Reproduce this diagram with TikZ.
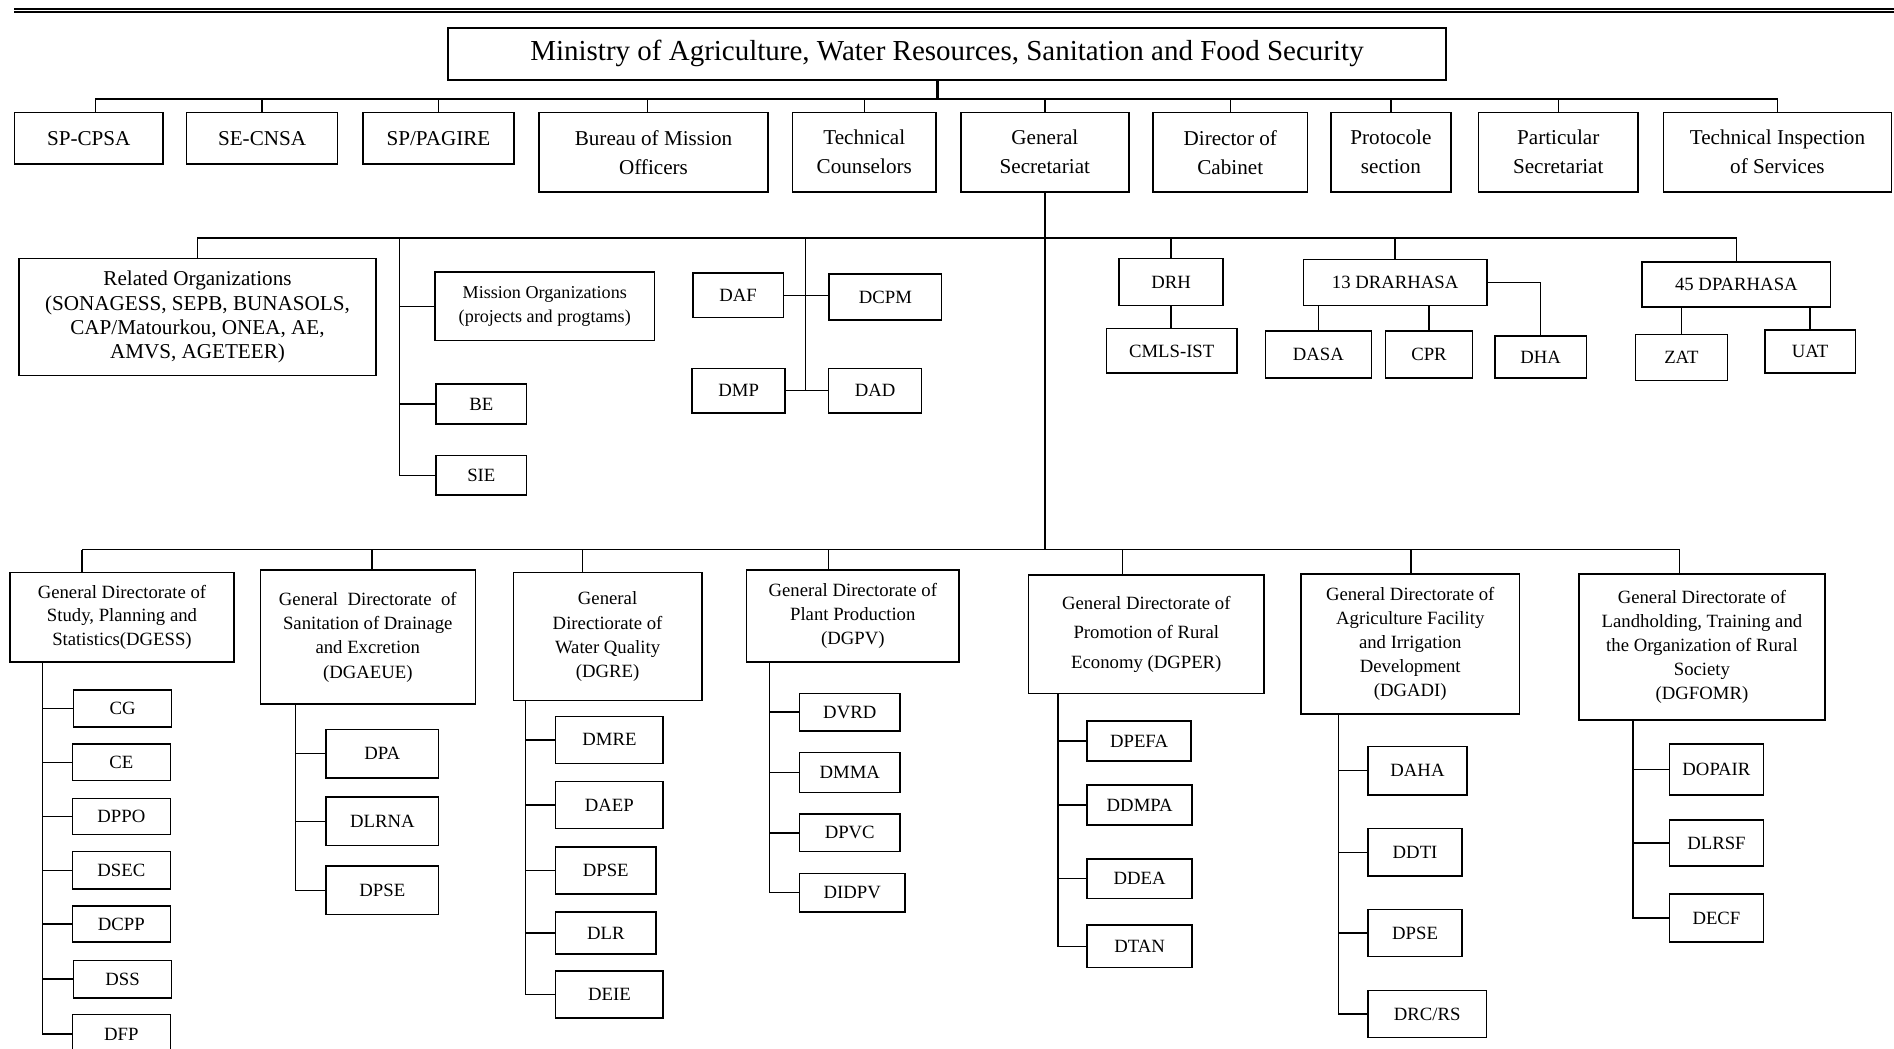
\documentclass[tikz,border=0pt]{standalone}
\usepackage{fontspec}
\setmainfont{Liberation Serif}
\begin{document}
\begin{tikzpicture}[x=1pt,y=-1pt,
  box/.style={draw, line width=1.3pt, inner sep=0pt, align=center},
  fA/.style={font=\fontsize{17.5}{24}\selectfont},
  fB/.style={font=\fontsize{15.5}{20}\selectfont},
  fC/.style={font=\fontsize{15.5}{19.5}\selectfont},
  conn/.style={line width=1.1pt},
  thickconn/.style={line width=2pt}]
\useasboundingbox (0,0) rectangle (1568,868);
% top rule
\draw[line width=2pt] (12,7.3) -- (1568,7.3);
\draw[line width=1.2pt] (12,10.1) -- (1568,10.1);

% level 0
\node[box, font=\fontsize{24}{28}\selectfont, minimum width=826pt, minimum height=43pt] (ministry) at (784,44.5) {Ministry of Agriculture, Water Resources, Sanitation and Food Security};

% level 1
\node[box,fA,minimum width=123pt,minimum height=43pt] (spcpsa) at (73.5,114.5) {SP-CPSA};
\node[box,fA,minimum width=125pt,minimum height=43pt] (secnsa) at (217,114.5) {SE-CNSA};
\node[box,fA,minimum width=125pt,minimum height=43pt] (sppagire) at (363,114.5) {SP/PAGIRE};
\node[box,fA,minimum width=190pt,minimum height=66pt] (bureau) at (541,126) {Bureau of Mission\\Officers};
\node[box,fA,minimum width=119pt,minimum height=66pt] (techc) at (715.5,126) {Technical\\Counselors};
\node[box,fA,minimum width=139pt,minimum height=66pt] (gs) at (865,126) {General\\Secretariat};
\node[box,fA,minimum width=128pt,minimum height=66pt] (dircab) at (1018.5,126) {Director of\\Cabinet};
\node[box,fA,minimum width=99pt,minimum height=66pt] (proto) at (1151.5,126) {Protocole\\section};
\node[box,fA,minimum width=132pt,minimum height=66pt] (partic) at (1290,126) {Particular\\Secretariat};
\node[box,fA,minimum width=189pt,minimum height=66pt] (tis) at (1471.5,126) {Technical Inspection\\of Services};

\coordinate (mx) at (776,0);
\coordinate (busA) at (0,82);
\coordinate (a1) at (79,82);
\coordinate (a4) at (536,82);
\draw[conn] (a1 |- spcpsa.north) -- (a1) -- (tis.north |- busA) -- (tis.north);
\draw[conn] (a4) -- (a4 |- bureau.north);
\foreach \n in {secnsa,sppagire,techc,gs,dircab,proto,partic}
  \draw[conn] (\n.north) -- (\n.north |- busA);
\draw[thickconn] (ministry.south -| mx) -- (mx |- busA) -- (partic.north |- busA);

% level 2
\node[box,font=\fontsize{17.5}{20}\selectfont,minimum width=296pt,minimum height=97pt] (relorg) at (163.5,262.5) {Related Organizations\\(SONAGESS, SEPB, BUNASOLS,\\CAP/Matourkou, ONEA, AE,\\AMVS, AGETEER)};
\node[box,font=\fontsize{15}{20}\selectfont,minimum width=182pt,minimum height=57pt] (mission) at (451,253.5) {Mission Organizations\\(projects and progtams)};
\node[box,fB,minimum width=75pt,minimum height=33pt] (be) at (398.5,334.5) {BE};
\node[box,fB,minimum width=75pt,minimum height=33pt] (sie) at (398.5,393.5) {SIE};
\node[box,fB,minimum width=75pt,minimum height=37pt] (daf) at (611,244.5) {DAF};
\node[box,fB,minimum width=93pt,minimum height=38pt] (dcpm) at (733,246) {DCPM};
\node[box,fB,minimum width=77pt,minimum height=37pt] (dmp) at (611.5,323.5) {DMP};
\node[box,fB,minimum width=77pt,minimum height=37pt] (dad) at (724.5,323.5) {DAD};
\node[box,fB,minimum width=86pt,minimum height=39pt] (drh) at (969.5,233.5) {DRH};
\node[box,fB,minimum width=108pt,minimum height=37pt] (cmls) at (970,290.5) {CMLS-IST};
\node[box,fB,minimum width=152pt,minimum height=38pt] (drar) at (1155,234) {13 DRARHASA};
\node[box,fB,minimum width=88pt,minimum height=39pt] (dasa) at (1091.5,293.5) {DASA};
\node[box,fB,minimum width=72pt,minimum height=39pt] (cpr) at (1183,293.5) {CPR};
\node[box,fB,minimum width=76pt,minimum height=35pt] (dha) at (1275.5,295.5) {DHA};
\node[box,fB,minimum width=156pt,minimum height=37pt] (dpar) at (1437.5,235.5) {45 DPARHASA};
\node[box,fB,minimum width=76pt,minimum height=38pt] (zat) at (1392,296) {ZAT};
\node[box,fB,minimum width=75pt,minimum height=36pt] (uat) at (1498.5,291) {UAT};

\coordinate (busB) at (0,197);
\coordinate (busC) at (0,455);
\coordinate (bx) at (331,0);
\coordinate (fx) at (667,0);
\draw[conn] (gs.south) -- (gs.south |- busC);
\draw[conn] (relorg.north) -- (relorg.north |- busB) -- (dpar.north |- busB) -- (dpar.north);
\draw[conn] (bx |- busB) |- (sie.west);
\draw[conn] (bx |- mission.west) -- (mission.west);
\draw[conn] (bx |- be.west) -- (be.west);
\draw[conn] (fx |- busB) -- (fx |- dmp.east);
\draw[conn] (daf.east) -- (daf.east -| dcpm.west);
\draw[conn] (dmp.east) -- (dad.west);
\draw[conn] (drh.north) -- (drh.north |- busB);
\draw[conn] (drar.north) -- (drar.north |- busB);
\draw[conn] (drh.south) -- (drh.south |- cmls.north);
\draw[conn] (dasa.north) -- (dasa.north |- drar.south);
\draw[conn] (cpr.north) -- (cpr.north |- drar.south);
\draw[conn] (drar.east) -| (dha.north);
\draw[conn] (zat.north) -- (zat.north |- dpar.south);
\draw[conn] (uat.north) -- (uat.north |- dpar.south);

% level 3
\node[box,fC,minimum width=185pt,minimum height=74pt] (dgess) at (101,511) {General Directorate of\\Study, Planning and\\Statistics(DGESS)};
\node[box,fB,minimum width=178pt,minimum height=111pt] (dgaeue) at (304.5,527.5) {General\ \ Directorate\ \ of\\Sanitation of Drainage\\and Excretion\\(DGAEUE)};
\node[box,fB,minimum width=156pt,minimum height=106pt] (dgre) at (503,527) {General\\Directiorate of\\Water Quality\\(DGRE)};
\node[box,fB,minimum width=176pt,minimum height=76pt] (dgpv) at (706,510) {General Directorate of\\Plant Production\\(DGPV)};
\node[box,font=\fontsize{15.5}{24.5}\selectfont,minimum width=195pt,minimum height=98pt] (dgper) at (949,525) {General Directorate of\\Promotion of Rural\\Economy (DGPER)};
\node[box,fB,minimum width=181pt,minimum height=116pt] (dgadi) at (1167.5,533) {General Directorate of\\Agriculture Facility\\and Irrigation\\Development\\(DGADI)};
\node[box,fB,minimum width=204pt,minimum height=121pt] (dgfomr) at (1409,535.5) {General Directorate of\\Landholding, Training and\\the Organization of Rural\\Society\\(DGFOMR)};

\coordinate (d1) at (68,455);
\coordinate (d2) at (308,455);
\coordinate (d3) at (482,455);
\coordinate (d4) at (686,455);
\coordinate (d5) at (929.5,455);
\coordinate (d6) at (1168,455);
\coordinate (d7) at (1390.5,455);
\draw[conn] (d1) -- (d7);
\foreach \c/\n in {d1/dgess,d2/dgaeue,d3/dgre,d4/dgpv,d5/dgper,d6/dgadi,d7/dgfomr}
  \draw[conn] (\c) -- (\c |- \n.north);

% DGESS children
\node[box,fB,minimum width=81pt,minimum height=31pt] (cg) at (101.5,586.5) {CG};
\node[box,fB,minimum width=81pt,minimum height=30pt] (ce) at (100.5,631) {CE};
\node[box,fB,minimum width=81pt,minimum height=30pt] (dppo) at (100.5,676) {DPPO};
\node[box,fB,minimum width=81pt,minimum height=31pt] (dsec) at (100.5,720.5) {DSEC};
\node[box,fB,minimum width=81pt,minimum height=30pt] (dcpp) at (100.5,765) {DCPP};
\node[box,fB,minimum width=81pt,minimum height=31pt] (dss) at (101.5,810.5) {DSS};
\node[box,fB,minimum width=81pt,minimum height=32pt] (dfp) at (100.5,856) {DFP};
\coordinate (v1) at (35,0);
\draw[conn] (v1 |- dgess.south) |- (dfp.west);
\foreach \n in {cg,ce,dppo,dsec,dcpp,dss}
  \draw[conn] (v1 |- \n.west) -- (\n.west);

% DGAEUE children
\node[box,fB,minimum width=93pt,minimum height=40pt] (dpa) at (316.5,624) {DPA};
\node[box,fB,minimum width=93pt,minimum height=40pt] (dlrna) at (316.5,680) {DLRNA};
\node[box,fB,minimum width=93pt,minimum height=40pt] (dpseA) at (316.5,737) {DPSE};
\coordinate (v2) at (244.5,0);
\draw[conn] (v2 |- dgaeue.south) |- (dpseA.west);
\foreach \n in {dpa,dlrna}
  \draw[conn] (v2 |- \n.west) -- (\n.west);

% DGRE children
\node[box,fB,minimum width=89pt,minimum height=39pt] (dmre) at (504.5,612.5) {DMRE};
\node[box,fB,minimum width=89pt,minimum height=39pt] (daep) at (504.5,666.5) {DAEP};
\node[box,fB,minimum width=83pt,minimum height=39pt] (dpseB) at (501.5,720.5) {DPSE};
\node[box,fB,minimum width=83pt,minimum height=35pt] (dlr) at (501.5,772.5) {DLR};
\node[box,fB,minimum width=89pt,minimum height=39pt] (deie) at (504.5,823.5) {DEIE};
\coordinate (v3) at (435,0);
\draw[conn] (v3 |- dgre.south) |- (deie.west);
\foreach \n in {dmre,daep,dpseB,dlr}
  \draw[conn] (v3 |- \n.west) -- (\n.west);

% DGPV children
\node[box,fB,minimum width=83pt,minimum height=31pt] (dvrd) at (703.5,589.5) {DVRD};
\node[box,fB,minimum width=83pt,minimum height=33pt] (dmma) at (703.5,639.5) {DMMA};
\node[box,fB,minimum width=83pt,minimum height=31pt] (dpvc) at (703.5,689.5) {DPVC};
\node[box,fB,minimum width=87pt,minimum height=32pt] (didpv) at (705.5,739) {DIDPV};
\coordinate (v4) at (637,0);
\draw[conn] (v4 |- dgpv.south) |- (didpv.west);
\foreach \n in {dvrd,dmma,dpvc}
  \draw[conn] (v4 |- \n.west) -- (\n.west);

% DGPER children
\node[box,fB,minimum width=86pt,minimum height=33pt] (dpefa) at (943,613.5) {DPEFA};
\node[box,fB,minimum width=87pt,minimum height=33pt] (ddmpa) at (943.5,666.5) {DDMPA};
\node[box,fB,minimum width=87pt,minimum height=33pt] (ddea) at (943.5,727.5) {DDEA};
\node[box,fB,minimum width=87pt,minimum height=35pt] (dtan) at (943.5,783.5) {DTAN};
\coordinate (v5) at (876,0);
\draw[conn] (v5 |- dgper.south) |- (dtan.west);
\foreach \n in {dpefa,ddmpa,ddea}
  \draw[conn] (v5 |- \n.west) -- (\n.west);

% DGADI children
\node[box,fB,minimum width=82pt,minimum height=40pt] (daha) at (1173.5,638) {DAHA};
\node[box,fB,minimum width=78pt,minimum height=39pt] (ddti) at (1171.5,705.5) {DDTI};
\node[box,fB,minimum width=78pt,minimum height=39pt] (dpseC) at (1171.5,772.5) {DPSE};
\node[box,fB,minimum width=98pt,minimum height=39pt] (drcrs) at (1181.5,839.5) {DRC/RS};
\coordinate (v6) at (1108,0);
\draw[conn] (v6 |- dgadi.south) |- (drcrs.west);
\foreach \n in {daha,ddti,dpseC}
  \draw[conn] (v6 |- \n.west) -- (\n.west);

% DGFOMR children
\node[box,fB,minimum width=78pt,minimum height=42pt] (dopair) at (1421,637) {DOPAIR};
\node[box,fB,minimum width=78pt,minimum height=38pt] (dlrsf) at (1421,698) {DLRSF};
\node[box,fB,minimum width=78pt,minimum height=40pt] (decf) at (1421,760) {DECF};
\coordinate (v7) at (1352,0);
\draw[conn] (v7 |- dgfomr.south) |- (decf.west);
\foreach \n in {dopair,dlrsf}
  \draw[conn] (v7 |- \n.west) -- (\n.west);
\end{tikzpicture}
\end{document}
